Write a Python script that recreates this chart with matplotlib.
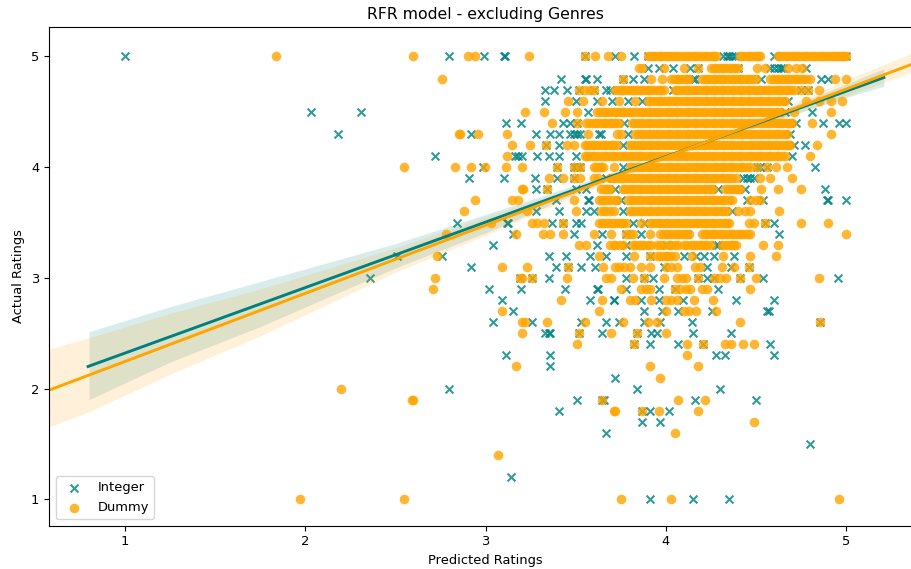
import matplotlib
matplotlib.use('Agg')
import matplotlib.pyplot as plt

ratings = [5.0, 4.9, 4.8, 4.7, 4.6, 4.5, 4.4, 4.3, 4.2, 4.1, 4.0, 3.9, 3.8, 3.7, 3.6, 3.5, 3.4, 3.3, 3.2, 3.1,
           3.0, 2.9, 2.8, 2.7, 2.6, 2.5, 2.4, 2.3, 2.2, 2.1, 2.0, 1.9, 1.8, 1.7, 1.6, 1.5, 1.4, 1.2, 1.0]

# predicted values per rating row
integer_pred = [
    [1.0, 2.80, 2.99, 3.10, 3.11, 3.55, 3.72, 3.825, 3.90, 3.95, 4.32, 4.34, 4.35, 4.37, 4.385, 4.60, 4.75, 4.96, 4.98, 5.0],
    [3.90, 3.96, 4.04, 4.135, 4.18, 4.40, 4.58, 4.60, 4.62, 4.64, 4.65, 4.78],
    [3.42, 3.55, 3.555, 3.62, 3.765, 3.82, 3.88, 4.15, 4.16, 4.53, 4.86, 4.90],
    [3.33, 3.38, 3.45, 3.52, 3.60, 3.67, 3.69, 4.04, 4.75, 4.79],
    [3.33, 3.50, 3.62, 3.70, 3.79, 3.87, 4.68],
    [2.03, 2.31, 3.57, 4.66, 4.81],
    [3.114, 3.196, 3.43, 3.47, 3.51, 3.68, 3.77, 4.72, 4.875, 4.96, 5.0],
    [2.18, 2.92, 3.28, 3.355, 3.405, 3.47, 3.49, 3.51, 3.525, 3.63, 3.64, 3.79, 4.69],
    [3.336, 3.41, 3.76, 4.71, 4.77],
    [2.72, 3.164, 3.18, 3.20, 3.285, 3.35, 3.41, 3.50, 4.70],
    [2.985, 3.396, 3.49, 3.51, 3.525, 3.76, 4.505, 4.52, 4.56, 4.83],
    [2.91, 3.10, 3.275, 3.395, 3.49, 3.67, 4.43, 4.45, 4.47, 4.49],
    [3.28, 3.34, 3.50, 3.56, 3.72, 4.29, 4.44, 4.885],
    [3.39, 3.57, 3.575, 3.75, 4.45, 4.54, 4.895, 4.90, 5.0],
    [3.28, 3.41, 3.56, 3.60, 3.76, 4.37],
    [2.84, 3.12, 3.124, 3.37, 3.43, 3.50, 3.53, 3.82, 3.88, 4.55, 4.60],
    [3.15, 3.49, 3.645, 3.78, 3.86, 4.12, 4.63],
    [3.04, 3.62, 3.78, 3.89, 4.0, 4.28, 4.29],
    [2.51, 2.76, 3.35, 3.447, 3.577, 3.67, 3.78, 3.91, 4.10, 4.17, 4.21, 4.27, 4.38],
    [2.92, 3.39, 3.46, 3.53, 3.61, 3.99, 4.23, 4.36, 4.46],
    [2.36, 3.19, 3.26, 3.35, 3.78, 3.88, 3.93, 4.18, 4.23, 4.265, 4.41, 4.54, 4.955],
    [3.02, 3.196, 3.44, 3.62, 3.625, 3.78, 3.96, 4.05, 4.29],
    [3.09, 3.58, 3.71, 3.715, 3.86, 3.96, 4.095, 4.39, 4.60],
    [3.15, 3.88, 3.98, 4.07, 4.255, 4.56, 4.57],
    [3.04, 3.26, 3.53, 3.67, 3.74, 3.877, 3.97, 4.145, 4.857],
    [3.33, 3.35, 3.36, 3.52, 3.645, 3.84, 3.92, 3.95, 4.15, 4.36],
    [3.825, 3.91, 4.07, 4.205, 4.58],
    [3.114, 3.36, 4.28, 4.33, 4.60],
    [3.36],
    [3.72],
    [2.80, 3.84, 4.30],
    [3.51, 3.645, 3.66, 4.16, 4.50],
    [3.405, 3.87, 3.91, 4.02],
    [3.87, 3.97],
    [3.67],
    [4.80],
    [],
    [3.14],
    [3.91, 4.15, 4.35],
]

dummy_pred = [
    [1.84, 2.60, 2.905, 2.94, 3.24, 3.55, 3.61, 3.68, 3.75, 3.90, 3.93, 3.96, 3.99, 4.02, 4.05, 4.08, 4.11, 4.14, 4.17, 4.20, 4.23, 4.26, 4.28,
     4.41, 4.44, 4.47, 4.50, 4.52, 4.62, 4.65, 4.68, 4.71, 4.74, 4.77, 4.80, 4.83, 4.86, 4.89, 4.92, 4.95, 4.98, 5.0],
    [3.85, 3.87, 3.99, 4.10, 4.18, 4.25, 4.28, 4.31, 4.34, 4.37, 4.40, 4.505, 4.55, 4.68, 4.72, 4.755],
    [2.76, 3.765, 3.92, 3.98, 4.03, 4.06, 4.09, 4.12, 4.13, 4.20, 4.23, 4.26, 4.29, 4.32, 4.35, 4.38, 4.41, 4.44, 4.47, 4.50,
     4.58, 4.61, 4.64, 4.67, 4.70, 4.73, 4.76, 4.80, 4.94, 5.0],
    [3.52, 3.55, 3.58, 3.60, 3.72, 3.75, 3.78, 3.81, 3.84, 3.87, 3.90, 3.93, 3.96, 3.99, 4.05, 4.08, 4.11, 4.14, 4.17, 4.20, 4.23, 4.26, 4.29, 4.32,
     4.35, 4.38, 4.41, 4.44, 4.47, 4.50, 4.53, 4.56, 4.59, 4.62, 4.65, 4.68, 4.71, 4.75, 4.79, 4.85],
    [3.455, 3.54, 3.645, 3.74, 3.83, 3.90, 3.93, 3.96, 3.99, 4.02, 4.05, 4.08, 4.11, 4.14, 4.17, 4.20, 4.23, 4.26, 4.29, 4.32, 4.35, 4.38, 4.41,
     4.44, 4.47, 4.50, 4.53, 4.56, 4.59, 4.62, 4.65, 4.66, 4.78, 4.85, 4.915, 4.98],
    [3.22, 3.325, 3.44, 3.51, 3.62, 3.65, 3.68, 3.71, 3.74, 3.77, 3.80, 3.83, 3.86, 3.89, 3.92, 3.95, 3.98, 4.01, 4.04, 4.07, 4.10, 4.13, 4.16, 4.19,
     4.22, 4.25, 4.28, 4.31, 4.34, 4.37, 4.40, 4.43, 4.46, 4.49, 4.52, 4.55, 4.58, 4.61, 4.64, 4.71, 4.915],
    [3.37, 3.51, 3.56, 3.59, 3.62, 3.65, 3.68, 3.71, 3.74, 3.81, 3.84, 3.87, 3.90, 3.93, 3.96, 3.99, 4.02, 4.05, 4.08, 4.11, 4.14, 4.17, 4.20, 4.23,
     4.26, 4.29, 4.32, 4.35, 4.38, 4.41, 4.44, 4.47, 4.50, 4.53, 4.56, 4.59, 4.62, 4.65, 4.68, 4.70, 4.81],
    [2.855, 2.86, 2.96, 3.12, 3.57, 3.73, 3.75, 3.83, 3.86, 3.89, 3.92, 3.95, 3.98, 4.01, 4.04, 4.07, 4.10, 4.13, 4.16, 4.19, 4.22, 4.25, 4.28, 4.31,
     4.34, 4.37, 4.40, 4.43, 4.46, 4.49, 4.52, 4.55, 4.58, 4.61, 4.64, 4.67, 4.915],
    [3.146, 3.244, 3.336, 3.45, 3.49, 3.55, 3.58, 3.61, 3.64, 3.67, 3.70, 3.73, 3.80, 3.83, 3.86, 3.89, 3.92, 3.95, 3.98, 4.01, 4.04, 4.07, 4.10, 4.13,
     4.16, 4.19, 4.22, 4.25, 4.28, 4.31, 4.34, 4.37, 4.40, 4.43, 4.46, 4.49, 4.52, 4.55, 4.58, 4.61, 4.64, 4.67, 4.69, 4.84],
    [3.12, 3.55, 3.58, 3.61, 3.64, 3.67, 3.70, 3.73, 3.76, 3.79, 3.82, 3.85, 3.88, 3.91, 3.94, 3.97, 4.00, 4.03, 4.06, 4.09, 4.12, 4.15, 4.18, 4.21,
     4.24, 4.27, 4.30, 4.33, 4.36, 4.39, 4.42, 4.45, 4.48, 4.51, 4.54, 4.57, 4.60, 4.63, 4.66, 4.80],
    [2.55, 2.83, 2.918, 2.997, 3.114, 3.20, 3.396, 3.49, 3.525, 3.60, 3.63, 3.65, 3.71, 3.80, 3.83, 3.86, 3.89, 3.92, 3.95, 3.98, 4.01, 4.04, 4.07,
     4.10, 4.13, 4.16, 4.19, 4.22, 4.25, 4.28, 4.31, 4.34, 4.37, 4.40, 4.43, 4.47, 4.505, 4.56, 4.61, 4.67],
    [3.35, 3.43, 3.49, 3.525, 3.60, 3.625, 3.69, 3.72, 3.75, 3.78, 3.81, 3.84, 3.87, 3.90, 3.93, 3.96, 3.99, 4.02, 4.05, 4.08, 4.11, 4.14, 4.17, 4.20,
     4.23, 4.26, 4.29, 4.32, 4.35, 4.39, 4.52, 4.58, 4.70],
    [3.2, 3.21, 3.34, 3.64, 3.67, 3.69, 3.76, 3.79, 3.82, 3.85, 3.88, 3.91, 3.94, 3.97, 4.00, 4.03, 4.06, 4.09, 4.12, 4.15, 4.18, 4.21, 4.24, 4.26,
     4.33, 4.36, 4.39, 4.41, 4.53, 4.62, 4.75],
    [2.94, 3.146, 3.18, 3.49, 3.63, 3.66, 3.69, 3.73, 3.79, 3.82, 3.85, 3.88, 3.91, 3.94, 3.97, 4.00, 4.03, 4.06, 4.09, 4.12, 4.15, 4.18, 4.21, 4.24,
     4.27, 4.30, 4.33, 4.37, 4.47, 4.50, 4.52],
    [2.88, 3.23, 3.50, 3.64, 3.67, 3.71, 3.80, 3.83, 3.86, 3.89, 3.92, 3.95, 3.98, 4.01, 4.04, 4.07, 4.10, 4.13, 4.16, 4.19, 4.22, 4.25, 4.28, 4.31,
     4.34, 4.40, 4.44, 4.47, 4.63],
    [3.03, 3.257, 3.285, 3.325, 3.43, 3.63, 3.66, 3.69, 3.72, 3.75, 3.78, 3.86, 3.91, 3.94, 3.97, 4.00, 4.03, 4.06, 4.09, 4.12, 4.15, 4.18, 4.21, 4.24,
     4.27, 4.30, 4.33, 4.35, 4.46, 4.49, 4.55, 4.75, 4.90],
    [2.78, 3.17, 3.32, 3.36, 3.43, 3.60, 3.695, 3.78, 3.80, 3.82, 3.91, 3.97, 4.00, 4.03, 4.06, 4.09, 4.12, 4.13, 4.20, 4.23, 4.26, 4.29, 4.32, 4.35,
     4.38, 4.41, 4.44, 4.47, 5.0],
    [3.52, 3.56, 3.72, 3.745, 3.83, 3.85, 3.88, 3.95, 3.97, 4.02, 4.05, 4.12, 4.175, 4.20, 4.23, 4.33, 4.36, 4.38, 4.54, 4.62],
    [2.73, 3.627, 3.826, 3.91, 3.97, 4.00, 4.03, 4.145, 4.32, 4.47, 4.61],
    [3.09, 3.23, 3.46, 3.65, 3.72, 3.74, 3.77, 3.80, 3.86, 3.91, 4.00, 4.03, 4.06, 4.16, 4.19, 4.31, 4.38, 4.46],
    [2.72, 3.19, 3.2, 3.26, 3.45, 3.67, 3.695, 3.82, 3.88, 3.99, 4.06, 4.09, 4.11, 4.18, 4.265, 4.30, 4.335, 4.41, 4.50, 4.85],
    [2.71, 3.75, 3.86, 3.89, 3.91, 4.05, 4.08, 4.11, 4.135, 4.20, 4.23, 4.47],
    [3.42, 3.645, 3.80, 3.83, 3.92, 4.00, 4.03, 4.06, 4.155, 4.26],
    [3.09, 3.63, 4.0, 4.10, 4.13, 4.17, 4.28],
    [3.2, 3.22, 3.34, 3.55, 3.765, 3.90, 3.95, 4.41, 4.857],
    [3.20, 3.52, 3.695, 3.84, 4.0],
    [3.51, 3.825, 4.12, 4.205, 4.33, 4.36, 4.43, 4.49],
    [4.12],
    [3.17, 3.91, 4.18],
    [3.97],
    [2.2],
    [2.59, 2.60, 3.645, 4.07, 4.22],
    [3.71, 3.72, 3.87, 3.96, 4.18],
    [4.49],
    [4.05],
    [],
    [3.07],
    [],
    [1.97, 2.55, 3.75, 4.03, 4.96],
]

# the packed rows 5.0 down to 3.2 hold far more points than the first pass above
dummy_pred_packed = [
    [3.915, 3.945, 3.975, 4.005, 4.035, 4.065, 4.095, 4.125, 4.155, 4.185, 4.215, 4.245, 4.27, 4.425, 4.455, 4.485, 4.51,
     4.635, 4.665, 4.695, 4.725, 4.755, 4.785, 4.815, 4.845, 4.875, 4.905, 4.935, 4.965, 4.99],
    [4.265, 4.295, 4.325, 4.355, 4.385],
    [4.045, 4.075, 4.105, 4.215, 4.245, 4.275, 4.305, 4.335, 4.365, 4.395, 4.425, 4.455, 4.485, 4.595, 4.625, 4.655, 4.685, 4.715, 4.745, 4.78],
    [3.735, 3.765, 3.795, 3.825, 3.855, 3.885, 3.915, 3.945, 3.975, 4.065, 4.095, 4.125, 4.155, 4.185, 4.215, 4.245, 4.275, 4.305, 4.335,
     4.365, 4.395, 4.425, 4.455, 4.485, 4.515, 4.545, 4.575, 4.605, 4.635, 4.665, 4.695],
    [3.915, 3.945, 3.975, 4.005, 4.035, 4.065, 4.095, 4.125, 4.155, 4.185, 4.215, 4.245, 4.275, 4.305, 4.335, 4.365, 4.395, 4.425, 4.455,
     4.485, 4.515, 4.545, 4.575, 4.605, 4.635],
    [3.635, 3.665, 3.695, 3.725, 3.755, 3.785, 3.815, 3.845, 3.875, 3.905, 3.935, 3.965, 3.995, 4.025, 4.055, 4.085, 4.115, 4.145, 4.175, 4.205,
     4.235, 4.265, 4.295, 4.325, 4.355, 4.385, 4.415, 4.445, 4.475, 4.505, 4.535, 4.565, 4.595, 4.625],
    [3.575, 3.605, 3.635, 3.665, 3.695, 3.725, 3.825, 3.855, 3.885, 3.915, 3.945, 3.975, 4.005, 4.035, 4.065, 4.095, 4.125, 4.155, 4.185, 4.215,
     4.245, 4.275, 4.305, 4.335, 4.365, 4.395, 4.425, 4.455, 4.485, 4.515, 4.545, 4.575, 4.605, 4.635, 4.665, 4.69],
    [3.845, 3.875, 3.905, 3.935, 3.965, 3.995, 4.025, 4.055, 4.085, 4.115, 4.145, 4.175, 4.205, 4.235, 4.265, 4.295, 4.325, 4.355, 4.385, 4.415,
     4.445, 4.475, 4.505, 4.535, 4.565, 4.595, 4.625, 4.655],
    [3.565, 3.595, 3.625, 3.655, 3.685, 3.715, 3.815, 3.845, 3.875, 3.905, 3.935, 3.965, 3.995, 4.025, 4.055, 4.085, 4.115, 4.145, 4.175, 4.205,
     4.235, 4.265, 4.295, 4.325, 4.355, 4.385, 4.415, 4.445, 4.475, 4.505, 4.535, 4.565, 4.595, 4.625, 4.655, 4.68],
    [3.565, 3.595, 3.625, 3.655, 3.685, 3.715, 3.745, 3.775, 3.805, 3.835, 3.865, 3.895, 3.925, 3.955, 3.985, 4.015, 4.045, 4.075, 4.105, 4.135,
     4.165, 4.195, 4.225, 4.255, 4.285, 4.315, 4.345, 4.375, 4.405, 4.435, 4.465, 4.495, 4.525, 4.555, 4.585, 4.615, 4.645],
    [3.615, 3.64, 3.815, 3.845, 3.875, 3.905, 3.935, 3.965, 3.995, 4.025, 4.055, 4.085, 4.115, 4.145, 4.175, 4.205, 4.235, 4.265, 4.295, 4.325,
     4.355, 4.385, 4.415, 4.45],
    [3.705, 3.735, 3.765, 3.795, 3.825, 3.855, 3.885, 3.915, 3.945, 3.975, 4.005, 4.035, 4.065, 4.095, 4.125, 4.155, 4.185, 4.215, 4.245, 4.275,
     4.305, 4.335, 4.37],
    [3.655, 3.68, 3.775, 3.805, 3.835, 3.865, 3.895, 3.925, 3.955, 3.985, 4.015, 4.045, 4.075, 4.105, 4.135, 4.165, 4.195, 4.225, 4.25, 4.345, 4.375, 4.40],
    [3.645, 3.675, 3.71, 3.805, 3.835, 3.865, 3.895, 3.925, 3.955, 3.985, 4.015, 4.045, 4.075, 4.105, 4.135, 4.165, 4.195, 4.225, 4.255, 4.285, 4.315, 4.35],
    [3.655, 3.69, 3.815, 3.845, 3.875, 3.905, 3.935, 3.965, 3.995, 4.025, 4.055, 4.085, 4.115, 4.145, 4.175, 4.205, 4.235, 4.265, 4.295, 4.325],
    [3.645, 3.675, 3.705, 3.735, 3.765, 3.925, 3.955, 3.985, 4.015, 4.045, 4.075, 4.105, 4.135, 4.165, 4.195, 4.225, 4.255, 4.285, 4.315, 4.34],
    [3.985, 4.015, 4.045, 4.075, 4.105, 4.215, 4.245, 4.275, 4.305, 4.335, 4.365, 4.395, 4.425, 4.455],
    [3.69, 3.71, 3.76, 3.82, 3.86, 3.90, 3.92, 3.99, 4.03, 4.07, 4.10, 4.14, 4.155, 4.19, 4.215, 4.25, 4.31, 4.345, 4.37, 4.39],
    [3.95, 3.985, 4.015, 4.05],
]

# fit lines with their confidence bands
integer_line_x = [0.795, 5.21]
integer_line_y = [2.20, 4.81]
integer_band_x = [0.8, 1.25, 1.75, 2.5, 3.05, 3.5, 4.0, 4.5, 5.0, 5.21]
integer_band_lo = [1.90, 2.24, 2.56, 3.09, 3.44, 3.76, 4.07, 4.36, 4.63, 4.73]
integer_band_hi = [2.514, 2.74, 2.967, 3.31, 3.60, 3.84, 4.11, 4.42, 4.75, 4.89]

dummy_line_x = [0.578, 5.366]
dummy_line_y = [1.986, 4.93]
dummy_band_x = [0.578, 0.8, 1.25, 1.75, 2.5, 3.05, 3.5, 4.0, 4.5, 5.0, 5.366]
dummy_band_lo = [1.654, 1.79, 2.13, 2.475, 3.05, 3.42, 3.74, 4.07, 4.36, 4.64, 4.86]
dummy_band_hi = [2.36, 2.46, 2.68, 2.90, 3.27, 3.58, 3.82, 4.11, 4.43, 4.79, 5.03]

int_x = []
int_y = []
for r, row in zip(ratings, integer_pred):
    int_x += row
    int_y += [r] * len(row)
dum_x = []
dum_y = []
for r, row in zip(ratings, dummy_pred):
    dum_x += row
    dum_y += [r] * len(row)
for r, row in zip(ratings, dummy_pred_packed):
    dum_x += row
    dum_y += [r] * len(row)

plt.rcParams['font.size'] = 9.4

fig = plt.figure(figsize=(9.12, 5.69), dpi=100)
# the reference is cropped on the right, so the axes run past the edge
ax = fig.add_axes([49 / 912, (569 - 525.7) / 569, (921 - 49) / 912, (525.7 - 27) / 569])

ax.scatter(int_x, int_y, marker='x', color='teal', alpha=0.8, s=32, label='Integer')
ax.plot(integer_line_x, integer_line_y, color='teal', lw=2.1)
ax.fill_between(integer_band_x, integer_band_lo, integer_band_hi, color='teal', alpha=0.15, lw=0)

ax.scatter(dum_x, dum_y, marker='o', color='orange', alpha=0.8, s=48, lw=0, label='Dummy')
ax.plot(dummy_line_x, dummy_line_y, color='orange', lw=2.1)
ax.fill_between(dummy_band_x, dummy_band_lo, dummy_band_hi, color='orange', alpha=0.15, lw=0)

ax.set_xlim(0.578, 5.416)
ax.set_ylim(0.762, 5.266)
ax.set_xticks([1, 2, 3, 4, 5])
ax.set_yticks([1, 2, 3, 4, 5])
ax.set_xlabel('Predicted Ratings')
ax.set_ylabel('Actual Ratings')
ax.set_title('RFR model - excluding Genres', fontsize=11.3)
ax.legend(loc='lower left')

fig.savefig('out.png', dpi=100)
